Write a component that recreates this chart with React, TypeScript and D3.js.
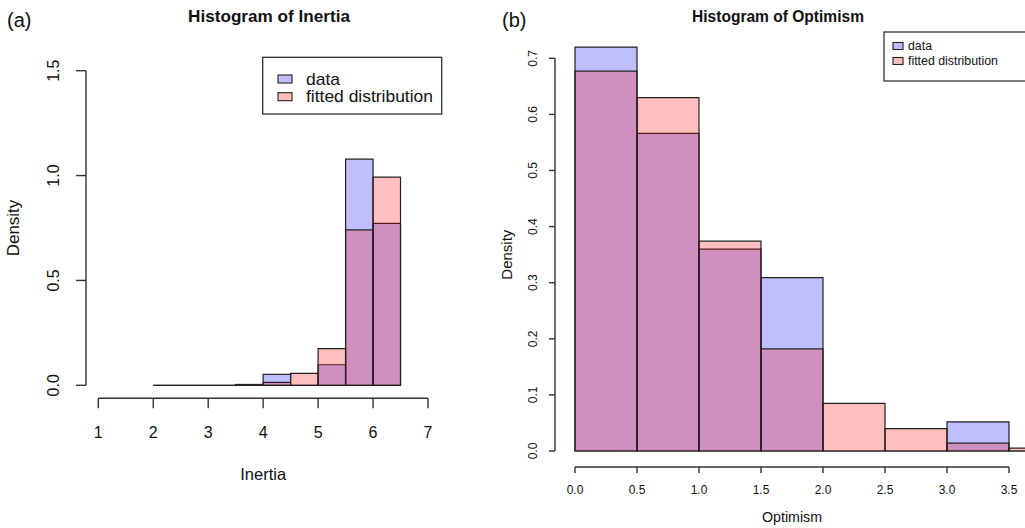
import React from "react";
import * as d3 from "d3";

// ---- Data ----
const inertiaEdges = [2, 2.5, 3, 3.5, 4, 4.5, 5, 5.5, 6, 6.5];
const inertiaData = [0, 0, 0, 0.004, 0.052, 0, 0.098, 1.078, 0.772];
const inertiaFit = [0, 0, 0, 0.002, 0.014, 0.057, 0.175, 0.741, 0.993];
const inertiaXTicks = [1, 2, 3, 4, 5, 6, 7];
const inertiaYTicks = [0, 0.5, 1, 1.5];

const optimismEdges = [0, 0.5, 1, 1.5, 2, 2.5, 3, 3.5, 4];
const optimismData = [0.72, 0.566, 0.36, 0.309, 0, 0, 0.052, 0];
const optimismFit = [0.677, 0.63, 0.374, 0.182, 0.085, 0.04, 0.014, 0.005];
const optimismXTicks = [0, 0.5, 1, 1.5, 2, 2.5, 3, 3.5];
const optimismYTicks = [0, 0.1, 0.2, 0.3, 0.4, 0.5, 0.6, 0.7];

const legendLabels = ["data", "fitted distribution"];
const BLUE = "rgba(0,0,255,0.25)";
const RED = "rgba(255,0,0,0.25)";
const EDGE = "#222";
const AXIS = "#333";
const FONT = "'Liberation Sans', Arial, sans-serif";

type PanelProps = {
  edges: number[];
  data: number[];
  fit: number[];
  xTicks: number[];
  yTicks: number[];
  xDomain: [number, number];
  xRange: [number, number];
  yDomain: [number, number];
  yRange: [number, number];
  xAxisY: number;
  yAxisX: number;
  tickLen: number;
  tickFont: number;
  xLabelY: number;
  yLabelX: number;
  xTitle: string;
  xTitleY: number;
  xTitleFont: number;
  yTitleX: number;
  yTitleFont: number;
  xFmt: (v: number) => string;
  yFmt: (v: number) => string;
  title: string;
  titleX: number;
  titleLen: number;
  tag: string;
  tagX: number;
  legend: { x: number; y: number; w: number; h: number; font: number; boxX: number; boxW: number; boxH: number; textX: number; rows: number[]; textLen: number[] };
};

function Panel(p: PanelProps) {
  const x = d3.scaleLinear().domain(p.xDomain).range(p.xRange);
  const y = d3.scaleLinear().domain(p.yDomain).range(p.yRange);
  const bins = p.edges.slice(0, -1).map((e, i) => ({ x0: e, x1: p.edges[i + 1] }));
  const drawBars = (vals: number[], fill: string) =>
    bins.map((b, i) => {
      const path = d3.path();
      path.moveTo(x(b.x0), y(0));
      path.lineTo(x(b.x0), y(vals[i]));
      path.lineTo(x(b.x1), y(vals[i]));
      path.lineTo(x(b.x1), y(0));
      path.closePath();
      return <path key={fill + i} d={path.toString()} fill={fill} stroke={EDGE} strokeWidth={1.2} />;
    });
  const lg = p.legend;
  return (
    <g>
      <text x={p.tagX} y={20} fontSize={20} fontFamily={FONT} dominantBaseline="central" fill="#111">{p.tag}</text>
      <text x={p.titleX} y={16} fontSize={16.5} fontWeight="bold" fontFamily={FONT} textAnchor="middle" dominantBaseline="central" textLength={p.titleLen} lengthAdjust="spacingAndGlyphs" fill="#111">{p.title}</text>
      {drawBars(p.data, BLUE)}
      {drawBars(p.fit, RED)}
      {/* y axis */}
      <line x1={p.yAxisX} x2={p.yAxisX} y1={y(p.yTicks[0])} y2={y(p.yTicks[p.yTicks.length - 1])} stroke={AXIS} strokeWidth={1.4} />
      {p.yTicks.map((t) => (
        <g key={"yt" + t}>
          <line x1={p.yAxisX - p.tickLen} x2={p.yAxisX} y1={y(t)} y2={y(t)} stroke={AXIS} strokeWidth={1.4} />
          <text transform={`translate(${p.yLabelX},${y(t)}) rotate(-90)`} fontSize={p.tickFont} fontFamily={FONT} textAnchor="middle" dominantBaseline="central" fill="#111">{p.yFmt(t)}</text>
        </g>
      ))}
      {/* x axis */}
      <line x1={x(p.xTicks[0])} x2={x(p.xTicks[p.xTicks.length - 1])} y1={p.xAxisY} y2={p.xAxisY} stroke={AXIS} strokeWidth={1.4} />
      {p.xTicks.map((t) => (
        <g key={"xt" + t}>
          <line x1={x(t)} x2={x(t)} y1={p.xAxisY} y2={p.xAxisY + p.tickLen} stroke={AXIS} strokeWidth={1.4} />
          <text x={x(t)} y={p.xLabelY} fontSize={p.tickFont} fontFamily={FONT} textAnchor="middle" dominantBaseline="central" fill="#111">{p.xFmt(t)}</text>
        </g>
      ))}
      <text x={(x(p.xTicks[0]) + x(p.xTicks[p.xTicks.length - 1])) / 2} y={p.xTitleY} fontSize={p.xTitleFont} fontFamily={FONT} textAnchor="middle" dominantBaseline="central" fill="#111">{p.xTitle}</text>
      <text transform={`translate(${p.yTitleX},${(p.yRange[0] + p.yRange[1]) / 2}) rotate(-90)`} fontSize={p.yTitleFont} fontFamily={FONT} textAnchor="middle" dominantBaseline="central" fill="#111">Density</text>
      {/* legend */}
      <rect x={lg.x} y={lg.y} width={lg.w} height={lg.h} fill="white" stroke={AXIS} strokeWidth={1.3} />
      {legendLabels.map((l, i) => (
        <g key={l}>
          <rect x={lg.boxX} y={lg.rows[i] - lg.boxH / 2} width={lg.boxW} height={lg.boxH} fill={i === 0 ? BLUE : RED} stroke={EDGE} strokeWidth={1.1} />
          <text x={lg.textX} y={lg.rows[i]} fontSize={lg.font} fontFamily={FONT} dominantBaseline="central" textLength={lg.textLen[i]} lengthAdjust="spacingAndGlyphs" fill="#111">{l}</text>
        </g>
      ))}
    </g>
  );
}

export default function App() {
  return (
    <svg width={1025} height={528} style={{ position: "absolute", left: 0, top: 0, background: "white" }}>
      <Panel
        edges={inertiaEdges}
        data={inertiaData}
        fit={inertiaFit}
        xTicks={inertiaXTicks}
        yTicks={inertiaYTicks}
        xDomain={[1, 7]}
        xRange={[98.3, 428]}
        yDomain={[0, 1.5]}
        yRange={[385.3, 70.7]}
        xAxisY={398.3}
        yAxisX={86}
        tickLen={10}
        tickFont={16}
        xLabelY={432}
        yLabelX={53}
        xTitle="Inertia"
        xTitleY={474}
        xTitleFont={16.5}
        yTitleX={13}
        yTitleFont={17}
        xFmt={(v) => String(v)}
        yFmt={(v) => v.toFixed(1)}
        title="Histogram of Inertia"
        titleX={269}
        titleLen={162}
        tag="(a)"
        tagX={7}
        legend={{ x: 262.7, y: 57.3, w: 179, h: 56.7, font: 17, boxX: 278, boxW: 14, boxH: 8, textX: 306, rows: [79, 96.7], textLen: [34, 127] }}
      />
      <Panel
        edges={optimismEdges}
        data={optimismData}
        fit={optimismFit}
        xTicks={optimismXTicks}
        yTicks={optimismYTicks}
        xDomain={[0, 3.5]}
        xRange={[575, 1009]}
        yDomain={[0, 0.7]}
        yRange={[451, 58.3]}
        xAxisY={467}
        yAxisX={555}
        tickLen={6}
        tickFont={12}
        xLabelY={490}
        yLabelX={533}
        xTitle="Optimism"
        xTitleY={517}
        xTitleFont={14.2}
        yTitleX={506}
        yTitleFont={15}
        xFmt={(v) => v.toFixed(1)}
        yFmt={(v) => v.toFixed(1)}
        title="Histogram of Optimism"
        titleX={778}
        titleLen={172}
        tag="(b)"
        tagX={502}
        legend={{ x: 884, y: 32, w: 160, h: 49, font: 12, boxX: 893, boxW: 10, boxH: 7, textX: 908, rows: [46, 61], textLen: [24, 90] }}
      />
    </svg>
  );
}
